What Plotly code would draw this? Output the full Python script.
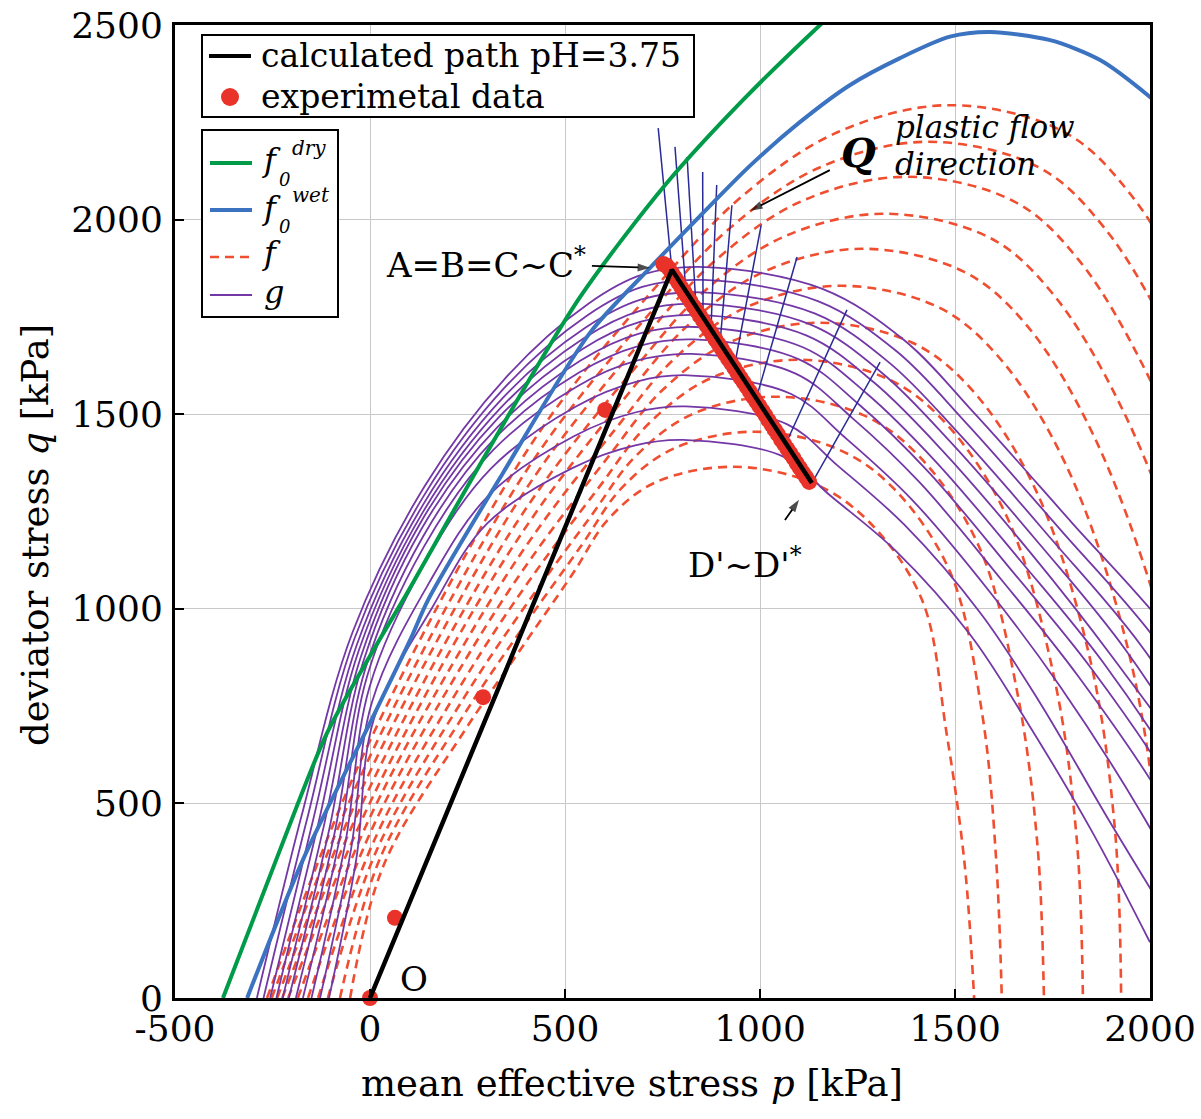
import plotly.graph_objects as go

# ---------------- data ----------------
X_RANGE = [-500, 2000]
Y_RANGE = [0, 2500]
TICKS_X = [-500, 0, 500, 1000, 1500, 2000]
TICKS_X_TEXT = ["-500", "0", "500", "1000", "1500", "2000"]
TICKS_Y = [0, 500, 1000, 1500, 2000, 2500]

# calculated path O -> A=B=C~C* -> D'~D'*
PATH_P = [0, 774, 1133]
PATH_Q = [0, 1871, 1323]

# experimental data (isolated points, then the dense band A -> D')
EXP_P = [0, 64, 290, 603, 752, 760, 766, 774, 782, 790, 798, 806, 814, 822, 830, 838, 846, 854,
         862, 870, 878, 886, 894, 902, 910, 918, 926, 934, 942, 950, 958, 966, 974, 982, 990,
         998, 1006, 1014, 1022, 1030, 1038, 1046, 1054, 1062, 1070, 1078, 1086, 1094, 1102,
         1110, 1118, 1126]
EXP_Q = [0, 206, 773, 1511, 1886, 1882, 1875, 1863, 1851, 1839, 1826, 1814, 1802, 1790, 1777,
         1765, 1753, 1741, 1729, 1716, 1704, 1692, 1680, 1668, 1655, 1643, 1631, 1619, 1606,
         1594, 1582, 1570, 1558, 1545, 1533, 1521, 1509, 1497, 1484, 1472, 1460, 1448, 1435,
         1423, 1411, 1399, 1387, 1374, 1362, 1350, 1338, 1326]

# initial yield surfaces
F0_DRY_P = [-377, -231, -110, 33, 85, 308, 538, 761, 956, 1154, 1220]
F0_DRY_Q = [0, 380, 681, 935, 1023, 1416, 1800, 2094, 2307, 2500, 2560]
F0_WET_P = [-315, -172, 0, 103, 149, 341, 564, 718, 846, 974, 1103, 1231, 1359, 1487, 1590,
            1744, 1872, 2000, 2060]
F0_WET_Q = [0, 355, 707, 920, 1023, 1349, 1709, 1876, 2009, 2138, 2251, 2346, 2415, 2470, 2482,
            2461, 2410, 2315, 2260]

# yield surfaces f (dashed), smallest to largest
F_P = [
    [-51, 35, 240, 380, 521, 610, 730, 930, 1133, 1274, 1415, 1478, 1525, 1549],
    [-77, 28, 241, 388, 543, 645, 777, 985, 1198, 1342, 1489, 1570, 1605, 1620],
    [-108, 20, 242, 396, 565, 680, 824, 1040, 1262, 1409, 1562, 1662, 1712, 1728],
    [-133, 13, 243, 404, 587, 715, 871, 1095, 1327, 1477, 1636, 1755, 1812, 1828],
    [-159, 5, 244, 412, 609, 750, 918, 1150, 1392, 1544, 1709, 1847, 1910, 1926],
    [-185, -3, 245, 420, 631, 785, 965, 1205, 1457, 1612, 1783, 1939, 2015, 2030],
    [-210, -10, 246, 428, 652, 820, 1012, 1260, 1521, 1680, 1856, 2031, 2140, 2160],
    [-225, -18, 247, 436, 674, 855, 1059, 1315, 1586, 1747, 1930, 2123, 2243, 2260],
    [-238, -25, 248, 444, 696, 890, 1106, 1375, 1651, 1815, 2003, 2216, 2345, 2370],
    [-252, -33, 249, 452, 718, 925, 1153, 1430, 1715, 1882, 2077, 2308, 2448, 2480],
    [-264, -40, 250, 460, 740, 960, 1200, 1487, 1780, 1950, 2150, 2400, 2550, 2600],
]
F_Q = [
    [0, 341, 683, 887, 1092, 1229, 1324, 1365, 1324, 1229, 1024, 683, 341, 0],
    [0, 364, 728, 946, 1164, 1310, 1411, 1455, 1411, 1310, 1091, 728, 364, 0],
    [0, 386, 773, 1004, 1236, 1391, 1499, 1545, 1499, 1391, 1159, 773, 386, 0],
    [0, 410, 820, 1066, 1312, 1476, 1591, 1640, 1591, 1476, 1230, 820, 410, 0],
    [0, 434, 868, 1128, 1388, 1562, 1683, 1735, 1683, 1562, 1301, 868, 434, 0],
    [0, 458, 915, 1190, 1464, 1647, 1775, 1830, 1775, 1647, 1373, 915, 458, 0],
    [0, 481, 963, 1251, 1540, 1733, 1867, 1925, 1867, 1733, 1444, 963, 481, 0],
    [0, 504, 1008, 1310, 1612, 1814, 1955, 2015, 1955, 1814, 1511, 1008, 504, 0],
    [0, 528, 1055, 1372, 1688, 1899, 2047, 2110, 2047, 1899, 1583, 1055, 528, 0],
    [0, 550, 1100, 1430, 1760, 1980, 2134, 2200, 2134, 1980, 1650, 1100, 550, 0],
    [0, 574, 1147, 1491, 1835, 2065, 2225, 2294, 2225, 2065, 1721, 1147, 574, 0],
]

# plastic potentials g (purple), outermost to innermost
G_P = [
    [-290, -175, -45, 140, 350, 560, 700, 860, 1160, 1370, 1550, 1800, 2050, 2300, 2500],
    [-273, -161, -40, 139, 345, 556, 698, 855, 1150, 1351, 1530, 1774, 2013, 2255, 2450],
    [-256, -147, -34, 137, 340, 552, 696, 850, 1140, 1332, 1510, 1748, 1976, 2210, 2400],
    [-240, -133, -29, 136, 335, 548, 694, 845, 1130, 1313, 1490, 1722, 1939, 2165, 2350],
    [-224, -119, -23, 134, 330, 544, 692, 840, 1120, 1294, 1470, 1696, 1902, 2150, 2330],
    [-208, -105, -18, 133, 325, 540, 690, 835, 1110, 1275, 1450, 1670, 1880, 2110, 2300],
    [-190, -91, -12, 135, 320, 536, 688, 830, 1100, 1256, 1430, 1644, 1850, 2080, 2260],
    [-172, -77, -7, 138, 315, 532, 686, 825, 1090, 1237, 1410, 1618, 1815, 2040, 2200],
    [-150, -63, -1, 142, 310, 528, 684, 815, 1080, 1218, 1390, 1592, 1770, 1975, 2150],
    [-128, -49, 5, 150, 305, 524, 682, 810, 1070, 1199, 1370, 1566, 1717, 1895, 2080],
    [-105, -35, 10, 160, 300, 520, 680, 803, 1060, 1180, 1350, 1540, 1680, 1850, 2000],
]
G_Q = [
    [0, 470, 939, 1315, 1596, 1784, 1859, 1878, 1822, 1690, 1502, 1221, 939, 563, 188],
    [0, 461, 923, 1292, 1568, 1753, 1827, 1845, 1790, 1661, 1476, 1199, 923, 554, 185],
    [0, 453, 907, 1269, 1541, 1722, 1795, 1813, 1759, 1632, 1450, 1178, 907, 544, 181],
    [0, 446, 892, 1249, 1516, 1695, 1766, 1784, 1730, 1606, 1427, 1160, 892, 535, 178],
    [0, 439, 878, 1229, 1492, 1667, 1737, 1755, 1702, 1580, 1404, 1141, 878, 527, 176],
    [0, 431, 862, 1207, 1465, 1638, 1707, 1724, 1672, 1552, 1379, 1121, 862, 517, 172],
    [0, 423, 846, 1184, 1438, 1607, 1675, 1692, 1641, 1523, 1354, 1100, 846, 508, 169],
    [0, 414, 828, 1159, 1407, 1572, 1638, 1655, 1605, 1490, 1324, 1076, 828, 497, 166],
    [0, 400, 800, 1120, 1360, 1520, 1584, 1600, 1552, 1440, 1280, 1040, 800, 480, 160],
    [0, 380, 760, 1064, 1292, 1444, 1505, 1520, 1474, 1368, 1216, 988, 760, 456, 152],
    [0, 358, 717, 1004, 1219, 1362, 1420, 1434, 1391, 1291, 1147, 932, 717, 430, 143],
]

# plastic flow directions Q: start on the path, end point
QDIR_FROM_P = [774, 810, 836, 854, 874, 897, 936, 992, 1067, 1133]
QDIR_FROM_Q = [1871, 1816, 1775, 1742, 1711, 1677, 1632, 1546, 1426, 1323]
QDIR_TO_P = [739, 782, 813, 853, 889, 928, 1003, 1095, 1223, 1308]
QDIR_TO_Q = [2235, 2187, 2161, 2122, 2089, 2037, 1986, 1904, 1768, 1634]

# pointer arrows of the labels (tail -> head), in data units
ARROW_TAIL_P = [569, 1064, 1179]
ARROW_TAIL_Q = [1881, 1228, 2127]
ARROW_HEAD_P = [718, 1100, 975]
ARROW_HEAD_Q = [1876, 1280, 2023]

# ---------------- styles ----------------
FONT = "DejaVu Serif, serif"
GREEN = "#009b48"
BLUE = "#3b73c0"
RED_DASH = "#f04e30"
PURPLE = "#7438a6"
QCOL = "#2a2a96"
EXPCOL = "#e8322a"

L, R, T, B = 175, 1150, 25, 998


def xp(px):
    return (px - L) / (R - L)


def yp(py):
    return (B - py) / (B - T)


fig = go.Figure()

for fp, fq in zip(F_P, F_Q):
    fig.add_trace(go.Scatter(x=fp, y=fq, mode="lines", showlegend=False, hoverinfo="skip",
                             line=dict(color=RED_DASH, width=2.6, dash="9px,6px",
                                       shape="spline", smoothing=1.0)))

for gp, gq in zip(G_P, G_Q):
    fig.add_trace(go.Scatter(x=gp, y=gq, mode="lines", showlegend=False, hoverinfo="skip",
                             line=dict(color=PURPLE, width=1.8, shape="spline", smoothing=1.0)))

qx, qy = [], []
for a, b, c, d in zip(QDIR_FROM_P, QDIR_FROM_Q, QDIR_TO_P, QDIR_TO_Q):
    qx += [a, c, None]
    qy += [b, d, None]
fig.add_trace(go.Scatter(x=qx, y=qy, mode="lines", showlegend=False, hoverinfo="skip",
                         line=dict(color=QCOL, width=1.5)))

fig.add_trace(go.Scatter(x=F0_DRY_P, y=F0_DRY_Q, mode="lines", showlegend=False,
                         line=dict(color=GREEN, width=4, shape="spline", smoothing=0.8)))
fig.add_trace(go.Scatter(x=F0_WET_P, y=F0_WET_Q, mode="lines", showlegend=False,
                         line=dict(color=BLUE, width=4, shape="spline", smoothing=0.8)))

fig.add_trace(go.Scatter(x=EXP_P, y=EXP_Q, mode="markers", showlegend=False, cliponaxis=False,
                         marker=dict(color=EXPCOL, size=16, line=dict(width=0))))
fig.add_trace(go.Scatter(x=PATH_P, y=PATH_Q, mode="lines", showlegend=False,
                         line=dict(color="black", width=4.5)))

# pointer arrows
for tp, tq, hp, hq in zip(ARROW_TAIL_P, ARROW_TAIL_Q, ARROW_HEAD_P, ARROW_HEAD_Q):
    fig.add_trace(go.Scatter(x=[tp, hp], y=[tq, hq], mode="lines+markers", showlegend=False,
                             hoverinfo="skip", line=dict(color="black", width=1.8),
                             marker=dict(symbol=["circle", "arrow"], size=[0, 13],
                                         angleref="previous", color="black",
                                         line=dict(width=0))))

# ---------------- legends (drawn) ----------------
shapes = []
shapes.append(dict(type="rect", xref="paper", yref="paper", x0=xp(202), x1=xp(694),
                   y0=yp(117), y1=yp(35), line=dict(color="black", width=2),
                   fillcolor="white", layer="above"))
shapes.append(dict(type="line", xref="paper", yref="paper", x0=xp(209), x1=xp(251),
                   y0=yp(56), y1=yp(56), line=dict(color="black", width=4), layer="above"))
shapes.append(dict(type="circle", xref="paper", yref="paper", x0=xp(221), x1=xp(239),
                   y0=yp(106), y1=yp(88), line=dict(color=EXPCOL, width=0),
                   fillcolor=EXPCOL, layer="above"))
shapes.append(dict(type="rect", xref="paper", yref="paper", x0=xp(202), x1=xp(338),
                   y0=yp(317), y1=yp(130), line=dict(color="black", width=2),
                   fillcolor="white", layer="above"))
for yy, col, w, dash in [(163, GREEN, 4, "solid"), (210, BLUE, 4, "solid"),
                         (257, RED_DASH, 2.6, "9px,6px"), (295, PURPLE, 2, "solid")]:
    shapes.append(dict(type="line", xref="paper", yref="paper", x0=xp(210), x1=xp(252),
                       y0=yp(yy), y1=yp(yy), line=dict(color=col, width=w, dash=dash),
                       layer="above"))

ann = []


def txt(x, y, s, size, xanchor="left", yanchor="middle", angle=0):
    ann.append(dict(xref="paper", yref="paper", x=xp(x), y=yp(y), text=s, showarrow=False,
                    xanchor=xanchor, yanchor=yanchor, textangle=angle,
                    font=dict(family=FONT, size=size, color="black")))


txt(259, 55, "calculated path pH=3.75", 33)
txt(259, 96, "experimetal data", 33)
txt(260, 160, "<i>f</i>", 32)
txt(277, 180, "<i>0</i>", 18)
txt(290, 148, "<i>dry</i>", 20)
txt(260, 208, "<i>f</i>", 32)
txt(277, 226, "<i>0</i>", 18)
txt(290, 195, "<i>wet</i>", 20)
txt(260, 253, "<i>f</i>", 32)
txt(262, 292, "<i>g</i>", 32)

# axis titles
txt(632, 1083, "mean effective stress <i>p</i> [kPa]", 37, xanchor="center")
txt(35, 535, "deviator stress <i>q</i> [kPa]", 37, xanchor="center", angle=-90)

# labels in the plot
txt(588, 263, "A=B=C~C<sup>*</sup>", 34, xanchor="right")
txt(686, 563, "D'~D'<sup>*</sup>", 34)
txt(414, 979, "O", 34, xanchor="center")
txt(858, 152, "<b><i>Q</i></b>", 40, xanchor="center")
txt(893, 127, "<i>plastic flow</i>", 31)
txt(893, 164, "<i>direction</i>", 31)

axis_common = dict(showline=True, linecolor="black", linewidth=3, mirror=True,
                   ticks="inside", ticklen=9, tickwidth=2, tickcolor="black",
                   showgrid=True, gridcolor="#c8c8c8", gridwidth=1, zeroline=False,
                   automargin=False,
                   tickfont=dict(family=FONT, size=36, color="black"))

fig.update_layout(
    width=1201, height=1119, autosize=False,
    margin=dict(l=L, r=1201 - R, t=T, b=1119 - B),
    paper_bgcolor="white", plot_bgcolor="white",
    xaxis=dict(range=X_RANGE, tickvals=TICKS_X, ticktext=TICKS_X_TEXT, ticklabelstandoff=-3,
               **axis_common),
    yaxis=dict(range=Y_RANGE, tickvals=TICKS_Y, ticklabelstandoff=2, **axis_common),
    shapes=shapes, annotations=ann, showlegend=False,
)

fig.write_html("out.html")
